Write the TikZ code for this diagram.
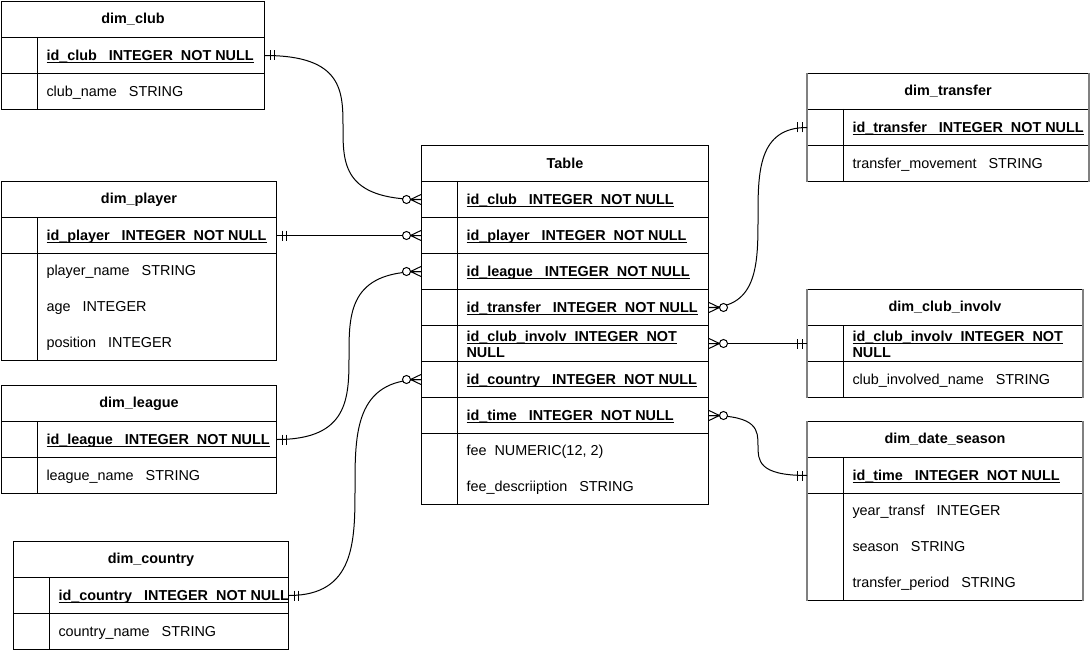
\documentclass[tikz,border=0pt]{standalone}
\usepackage{fontspec}
\setmainfont{Liberation Sans}
\newcommand\ulx[1]{\sbox0{#1}\rlap{\usebox0}\rule[-2.6pt]{\wd0}{1pt}}
\begin{document}
\begin{tikzpicture}[x=1pt,y=-1pt, line width=1pt,
  every node/.style={inner sep=0pt},
  box/.style={draw=black, anchor=north west, minimum height=36pt},
  hdr/.style={box, font=\fontsize{14.4}{17}\selectfont\bfseries},
  txt/.style={anchor=base west, font=\fontsize{14.4}{17}\selectfont},
  keytxt/.style={anchor=base west, font=\fontsize{14.4}{17}\selectfont\bfseries},
  divl/.style={draw=black, line width=1pt},
  edgegray/.style={draw=black!50, line width=1.5pt},
  conn/.style={draw=black, line width=1pt},
  zmany/.pic={\draw[line width=1pt] (0,-5) -- (-10.5,0) -- (0,5) (-10.5,0) -- (0,0);
              \filldraw[fill=white, line width=1pt] (-14.5,0) circle[radius=4pt];},
  mone/.pic={\draw[line width=1pt] (5,-5) -- (5,5) (9.5,-5) -- (9.5,5);}
]
\useasboundingbox (0,0) rectangle (1090,650);

% ---------- dim_club ----------
\node[hdr, minimum width=263pt] (club_h) at (1,1) {dim\_club};
\node[box, minimum width=263pt] (club_id) at (1,37) {};
\node[box, minimum width=263pt] (club_2) at (1,73) {};
\draw[divl] ([xshift=36pt]club_id.north west) -- ([xshift=36pt]club_2.south west);
\node[keytxt] at ([xshift=45pt,yshift=-5pt]club_id.west) {\ulx{id\_club~~~INTEGER~~NOT~NULL}};
\node[txt] at ([xshift=45pt,yshift=-5pt]club_2.west) {club\_name~~~STRING};

% ---------- dim_player ----------
\node[hdr, minimum width=275pt] (pl_h) at (1,181) {dim\_player};
\node[box, minimum width=275pt] (pl_id) at (1,217) {};
\node[box, minimum width=275pt, minimum height=107pt] (pl_2) at (1,253) {};
\draw[divl] ([xshift=36pt]pl_id.north west) -- ([xshift=36pt]pl_2.south west);
\node[keytxt] at ([xshift=45pt,yshift=-5pt]pl_id.west) {\ulx{id\_player~~~INTEGER~~NOT~NULL}};
\node[txt] at ([xshift=45pt,yshift=-22pt]pl_2.north west) {player\_name~~~STRING};
\node[txt] at ([xshift=45pt,yshift=-58pt]pl_2.north west) {age~~~INTEGER};
\node[txt] at ([xshift=45pt,yshift=-94pt]pl_2.north west) {position~~~INTEGER};

% ---------- dim_league ----------
\node[hdr, minimum width=275pt] (lg_h) at (1,385) {dim\_league};
\node[box, minimum width=275pt] (lg_id) at (1,421) {};
\node[box, minimum width=275pt] (lg_2) at (1,457) {};
\draw[divl] ([xshift=36pt]lg_id.north west) -- ([xshift=36pt]lg_2.south west);
\node[keytxt] at ([xshift=45pt,yshift=-5pt]lg_id.west) {\ulx{id\_league~~~INTEGER~~NOT~NULL}};
\node[txt] at ([xshift=45pt,yshift=-5pt]lg_2.west) {league\_name~~~STRING};

% ---------- dim_country ----------
\node[hdr, minimum width=275pt] (co_h) at (13,541) {dim\_country};
\node[box, minimum width=275pt] (co_id) at (13,577) {};
\node[box, minimum width=275pt] (co_2) at (13,613) {};
\draw[divl] ([xshift=36pt]co_id.north west) -- ([xshift=36pt]co_2.south west);
\node[keytxt] at ([xshift=45pt,yshift=-5pt]co_id.west) {\ulx{id\_country~~~INTEGER~~NOT~NULL}};
\node[txt] at ([xshift=45pt,yshift=-5pt]co_2.west) {country\_name~~~STRING};

% ---------- Table ----------
\node[hdr, minimum width=287pt] (t_h) at (421,145) {Table};
\node[box, minimum width=287pt] (t_club) at (421,181) {};
\node[box, minimum width=287pt] (t_player) at (421,217) {};
\node[box, minimum width=287pt] (t_league) at (421,253) {};
\node[box, minimum width=287pt] (t_transfer) at (421,289) {};
\node[box, minimum width=287pt] (t_involv) at (421,325) {};
\node[box, minimum width=287pt] (t_country) at (421,361) {};
\node[box, minimum width=287pt] (t_time) at (421,397) {};
\node[box, minimum width=287pt, minimum height=71pt] (t_fee) at (421,433) {};
\draw[divl] ([xshift=36pt]t_club.north west) -- ([xshift=36pt]t_fee.south west);
\node[keytxt] at ([xshift=45pt,yshift=-5pt]t_club.west) {\ulx{id\_club~~~INTEGER~~NOT~NULL}};
\node[keytxt] at ([xshift=45pt,yshift=-5pt]t_player.west) {\ulx{id\_player~~~INTEGER~~NOT~NULL}};
\node[keytxt] at ([xshift=45pt,yshift=-5pt]t_league.west) {\ulx{id\_league~~~INTEGER~~NOT~NULL}};
\node[keytxt] at ([xshift=45pt,yshift=-5pt]t_transfer.west) {\ulx{id\_transfer~~~INTEGER~~NOT~NULL}};
\node[keytxt] at ([xshift=45pt,yshift=-16pt]t_involv.north west) {\ulx{id\_club\_involv~~INTEGER~~NOT}};
\node[keytxt] at ([xshift=45pt,yshift=-32pt]t_involv.north west) {NULL};
\node[keytxt] at ([xshift=45pt,yshift=-5pt]t_country.west) {\ulx{id\_country~~~INTEGER~~NOT~NULL}};
\node[keytxt] at ([xshift=45pt,yshift=-5pt]t_time.west) {\ulx{id\_time~~~INTEGER~~NOT~NULL}};
\node[txt] at ([xshift=45pt,yshift=-22pt]t_fee.north west) {fee~~NUMERIC(12,~2)};
\node[txt] at ([xshift=45pt,yshift=-58pt]t_fee.north west) {fee\_descriiption~~~STRING};

% ---------- dim_transfer ----------
\node[hdr, minimum width=281pt] (tr_h) at (807,73) {dim\_transfer};
\node[box, minimum width=281pt] (tr_id) at (807,109) {};
\node[box, minimum width=281pt] (tr_2) at (807,145) {};
\draw[edgegray] (tr_h.north west) -- (tr_2.south west) (tr_h.north east) -- (tr_2.south east);
\draw[divl] ([xshift=36pt]tr_id.north west) -- ([xshift=36pt]tr_2.south west);
\node[keytxt] at ([xshift=45pt,yshift=-5pt]tr_id.west) {\ulx{id\_transfer~~~INTEGER~~NOT~NULL}};
\node[txt] at ([xshift=45pt,yshift=-5pt]tr_2.west) {transfer\_movement~~~STRING};

% ---------- dim_club_involv ----------
\node[hdr, minimum width=275pt] (ci_h) at (807,289) {dim\_club\_involv};
\node[box, minimum width=275pt] (ci_id) at (807,325) {};
\node[box, minimum width=275pt] (ci_2) at (807,361) {};
\draw[edgegray] (ci_h.north west) -- (ci_2.south west) (ci_h.north east) -- (ci_2.south east);
\draw[divl] ([xshift=36pt]ci_id.north west) -- ([xshift=36pt]ci_2.south west);
\node[keytxt] at ([xshift=45pt,yshift=-16pt]ci_id.north west) {\ulx{id\_club\_involv~~INTEGER~~NOT}};
\node[keytxt] at ([xshift=45pt,yshift=-32pt]ci_id.north west) {NULL};
\node[txt] at ([xshift=45pt,yshift=-5pt]ci_2.west) {club\_involved\_name~~~STRING};

% ---------- dim_date_season ----------
\node[hdr, minimum width=275pt] (ds_h) at (807,421) {dim\_date\_season};
\node[box, minimum width=275pt] (ds_id) at (807,457) {};
\node[box, minimum width=275pt, minimum height=107pt] (ds_2) at (807,493) {};
\draw[edgegray] (ds_h.north west) -- (ds_2.south west) (ds_h.north east) -- (ds_2.south east);
\draw[divl] ([xshift=36pt]ds_id.north west) -- ([xshift=36pt]ds_2.south west);
\node[keytxt] at ([xshift=45pt,yshift=-5pt]ds_id.west) {\ulx{id\_time~~~INTEGER~~NOT~NULL}};
\node[txt] at ([xshift=45pt,yshift=-22pt]ds_2.north west) {year\_transf~~~INTEGER};
\node[txt] at ([xshift=45pt,yshift=-58pt]ds_2.north west) {season~~~STRING};
\node[txt] at ([xshift=45pt,yshift=-94pt]ds_2.north west) {transfer\_period~~~STRING};

% ---------- connectors ----------
\draw[conn] (club_id.east) .. controls (club_id.east -| t_club.west) and (t_club.west -| club_id.east) .. (t_club.west);
\draw[conn] (pl_id.east) -- (t_player.west);
\draw[conn] (lg_id.east) .. controls (lg_id.east -| t_league.west) and (t_league.west -| lg_id.east) .. (t_league.west);
\draw[conn] (co_id.east) .. controls (co_id.east -| t_country.west) and (t_country.west -| co_id.east) .. (t_country.west);
\draw[conn] (t_transfer.east) .. controls (t_transfer.east -| tr_id.west) and (tr_id.west -| t_transfer.east) .. (tr_id.west);
\draw[conn] (t_involv.east) -- (ci_id.west);
\draw[conn] (t_time.east) .. controls (t_time.east -| ds_id.west) and (ds_id.west -| t_time.east) .. (ds_id.west);

% ---------- end markers ----------
\pic at (club_id.east) {mone};
\pic at (pl_id.east) {mone};
\pic at (lg_id.east) {mone};
\pic at (co_id.east) {mone};
\pic at (t_club.west) {zmany};
\pic at (t_player.west) {zmany};
\pic at (t_league.west) {zmany};
\pic at (t_country.west) {zmany};
\pic[rotate=180] at (t_transfer.east) {zmany};
\pic[rotate=180] at (t_involv.east) {zmany};
\pic[rotate=180] at (t_time.east) {zmany};
\pic[rotate=180] at (tr_id.west) {mone};
\pic[rotate=180] at (ci_id.west) {mone};
\pic[rotate=180] at (ds_id.west) {mone};
\end{tikzpicture}
\end{document}
